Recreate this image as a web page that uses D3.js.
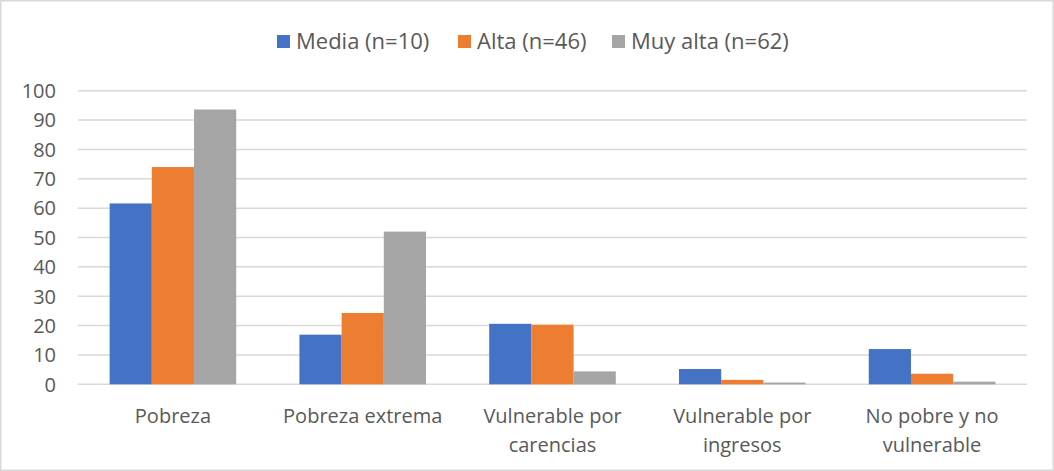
<!DOCTYPE html>
<html>
<head>
<meta charset="utf-8">
<script src="https://cdn.jsdelivr.net/npm/d3@7"></script>
<style>
  html, body { margin: 0; padding: 0; background: #fff; }
  svg { display: block; }
  text { font-family: "Open Sans", "Noto Sans", sans-serif; fill: #595959; }
</style>
</head>
<body>
<svg id="chart" width="1054" height="471"></svg>
<script>
// Categories (each label split into display lines)
const categories = [
  ["Pobreza"],
  ["Pobreza extrema"],
  ["Vulnerable por", "carencias"],
  ["Vulnerable por", "ingresos"],
  ["No pobre y no", "vulnerable"]
];
const seriesNames = ["Media (n=10)", "Alta (n=46)", "Muy alta (n=62)"];
const seriesColors = ["#4472C4", "#ED7D31", "#A5A5A5"];
const media   = [61.6, 16.9, 20.6, 5.2, 12.0];
const alta    = [74.0, 24.3, 20.3, 1.5, 3.6];
const muyAlta = [93.6, 52.0, 4.4, 0.6, 0.9];
const yTicks  = [0, 10, 20, 30, 40, 50, 60, 70, 80, 90, 100];

const seriesValues = [media, alta, muyAlta];
const W = 1054, H = 471;
const margin = { left: 78, right: 27, top: 90.7, bottom: 86.7 };

const svg = d3.select("#chart");

// Outer chart border
svg.append("rect")
  .attr("x", 0.75).attr("y", 0.75)
  .attr("width", W - 1.5).attr("height", H - 1.5)
  .attr("fill", "#fff").attr("stroke", "#d9d9d9").attr("stroke-width", 1.5);

const x0 = d3.scaleBand()
  .domain(d3.range(categories.length))
  .range([margin.left, W - margin.right])
  .paddingInner(0.333).paddingOuter(0.1667);

const x1 = d3.scaleBand()
  .domain(d3.range(seriesNames.length))
  .range([0, x0.bandwidth()]);

const y = d3.scaleLinear().domain([0, 100]).range([H - margin.bottom, margin.top]);

// Horizontal gridlines
svg.append("g")
  .selectAll("line")
  .data(yTicks)
  .join("line")
  .attr("x1", margin.left).attr("x2", W - margin.right)
  .attr("y1", d => y(d)).attr("y2", d => y(d))
  .attr("stroke", "#d9d9d9").attr("stroke-width", 1.5);

// Y axis labels
const yAxis = d3.axisLeft(y).tickValues(yTicks).tickSize(0).tickPadding(0);
const gy = svg.append("g").attr("transform", `translate(56,0)`).call(yAxis);
gy.select(".domain").remove();
gy.selectAll("text")
  .attr("font-size", 20)
  .attr("fill", "#595959")
  .attr("font-family", "Open Sans, Noto Sans, sans-serif")
  .attr("dy", "0.34em");

// Bars
const groups = svg.append("g")
  .selectAll("g")
  .data(categories.map((c, i) => i))
  .join("g")
  .attr("transform", i => `translate(${x0(i)},0)`);

groups.selectAll("rect")
  .data(i => seriesValues.map((vals, s) => ({ s, v: vals[i] })))
  .join("rect")
  .attr("x", d => x1(d.s))
  .attr("width", x1.bandwidth())
  .attr("y", d => y(d.v))
  .attr("height", d => y(0) - y(d.v))
  .attr("fill", d => seriesColors[d.s]);

// Category labels
const catG = svg.append("g");
categories.forEach((lines, i) => {
  const t = catG.append("text")
    .attr("text-anchor", "middle")
    .attr("font-size", 20)
    .attr("x", x0(i) + x0.bandwidth() / 2)
    .attr("y", 423);
  lines.forEach((ln, k) => {
    t.append("tspan")
      .attr("x", x0(i) + x0.bandwidth() / 2)
      .attr("dy", k === 0 ? 0 : 29)
      .text(ln);
  });
});

// Legend
const legendX = [277, 458, 612];
const legend = svg.append("g");
seriesNames.forEach((name, s) => {
  legend.append("rect")
    .attr("x", legendX[s]).attr("y", 35)
    .attr("width", 13).attr("height", 13)
    .attr("fill", seriesColors[s]);
  legend.append("text")
    .attr("x", legendX[s] + 19).attr("y", 49)
    .attr("font-size", 22)
    .text(name);
});
</script>
</body>
</html>
